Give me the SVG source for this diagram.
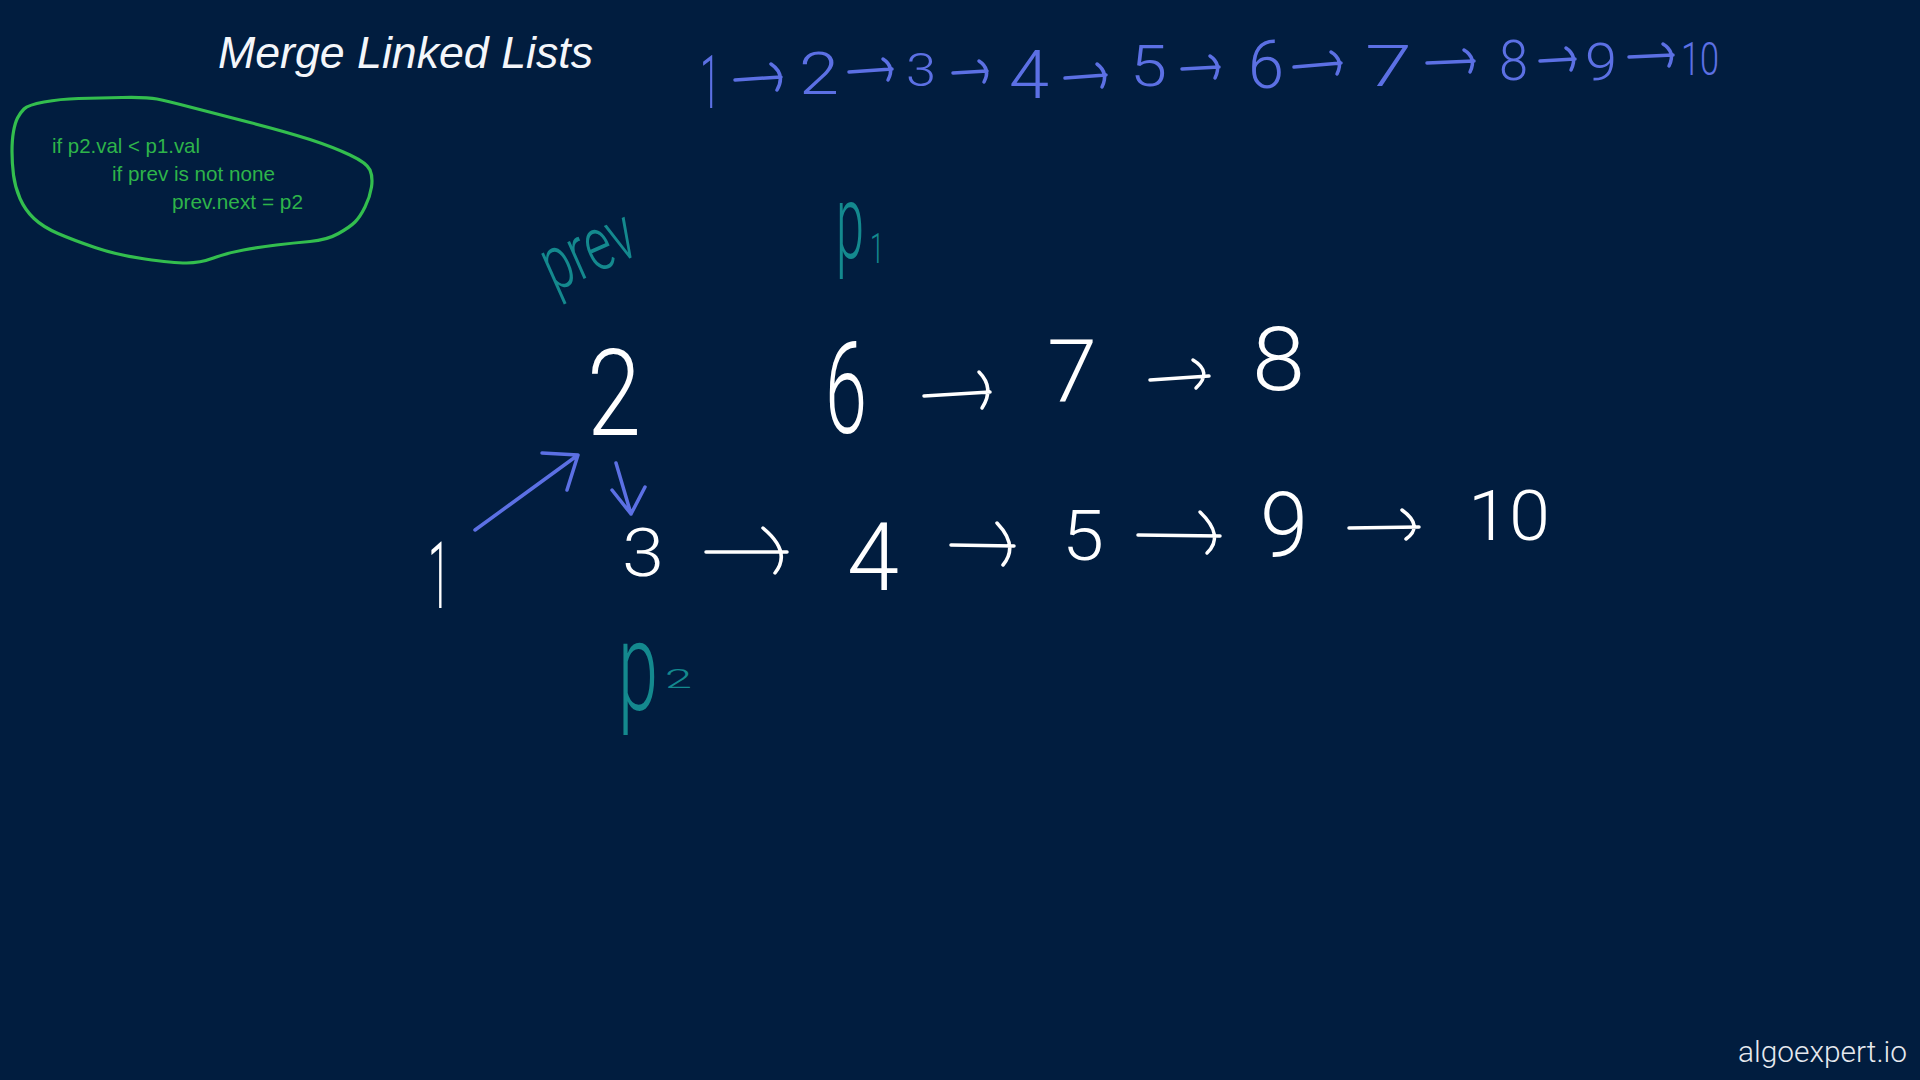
<svg xmlns="http://www.w3.org/2000/svg" width="1920" height="1080" viewBox="0 0 1920 1080">
<style>
.hw{font-family:Roboto,"Liberation Sans",sans-serif;font-weight:300;}
.w{fill:#ffffff;}
.b{fill:#5c70e4;}
.t{fill:#14898e;}
.g{fill:#2eb44a;font-family:"Liberation Sans",Arial,sans-serif;font-size:21px;}
.aw{fill:none;stroke:#ffffff;stroke-width:3.5;stroke-linecap:round;stroke-linejoin:round;}
.ab{fill:none;stroke:#5c70e4;stroke-width:3.5;stroke-linecap:round;stroke-linejoin:round;}
</style>
<rect width="1920" height="1080" fill="#011d3f"/>

<g id="title">
<text x="218" y="68" font-family="'Liberation Sans',Arial,sans-serif" font-style="italic" font-size="44" fill="#f4f6fa" textLength="375" lengthAdjust="spacingAndGlyphs">Merge Linked Lists</text>
</g>

<g id="code-note">
<path d="M44,102 Q60,99 78.5,98.5 Q97,98 122,97.5 Q147,97 157,99 Q167,101 190,107 Q213,113 250,122.5 Q287,132 310,139.5 Q333,147 350,155 Q367,163 370,170 Q373,177 371.5,187 Q370,197 365,207 Q360,217 355,222 Q350,227 338.5,233.5 Q327,240 310,241.5 Q293,243 276.5,245 Q260,247 243.5,250 Q227,253 213.5,258 Q200,263 186.5,263 Q173,263 145,259 Q117,255 95,247.5 Q73,240 58,233.5 Q43,227 34,218.5 Q25,210 20,198.5 Q15,187 13.5,175 Q12,163 12,151.5 Q12,140 13.5,131.5 Q15,123 17.5,118 Q20,113 24,109 Q28,105 44,102 Z" fill="none" stroke="#33be4e" stroke-width="3.2" stroke-linejoin="round"/>
<text class="g" x="52" y="153" textLength="148" lengthAdjust="spacingAndGlyphs">if p2.val &lt; p1.val</text>
<text class="g" x="112" y="181" textLength="163" lengthAdjust="spacingAndGlyphs">if prev is not none</text>
<text class="g" x="172" y="209" textLength="131" lengthAdjust="spacingAndGlyphs">prev.next = p2</text>
</g>

<g id="merged-list" class="hw b">
<text x="700" y="108" font-size="75" textLength="20" lengthAdjust="spacingAndGlyphs">1</text>
<text x="799" y="94" font-size="60" textLength="40" lengthAdjust="spacingAndGlyphs">2</text>
<text x="906" y="86" font-size="46" textLength="30" lengthAdjust="spacingAndGlyphs">3</text>
<text x="1009" y="98" font-size="66" textLength="40" lengthAdjust="spacingAndGlyphs">4</text>
<text x="1130" y="86" font-size="58" textLength="37" lengthAdjust="spacingAndGlyphs">5</text>
<text x="1248" y="88" font-size="67" textLength="36" lengthAdjust="spacingAndGlyphs">6</text>
<text x="1365" y="86" font-size="58" textLength="47" lengthAdjust="spacingAndGlyphs">7</text>
<text x="1499" y="80" font-size="56" textLength="29" lengthAdjust="spacingAndGlyphs">8</text>
<text x="1585" y="80" font-size="52" textLength="32" lengthAdjust="spacingAndGlyphs">9</text>
<text x="1681" y="75" font-size="46" textLength="38" lengthAdjust="spacingAndGlyphs">10</text>
</g>

<g id="node-1" class="hw w"><text x="428" y="608" font-size="93" textLength="22" lengthAdjust="spacingAndGlyphs">1</text></g>
<g id="node-2" class="hw w"><text x="587" y="435" font-size="121" textLength="54" lengthAdjust="spacingAndGlyphs">2</text></g>
<g id="node-3" class="hw w"><text x="622" y="576" font-size="67" textLength="42" lengthAdjust="spacingAndGlyphs">3</text></g>
<g id="node-4" class="hw w"><text x="847" y="590" font-size="94" textLength="52" lengthAdjust="spacingAndGlyphs">4</text></g>
<g id="node-5" class="hw w"><text x="1062" y="560" font-size="70" textLength="42" lengthAdjust="spacingAndGlyphs">5</text></g>
<g id="node-6" class="hw w"><text x="825" y="433" font-size="128" textLength="42" lengthAdjust="spacingAndGlyphs">6</text></g>
<g id="node-7" class="hw w"><text x="1047" y="402" font-size="87" textLength="50" lengthAdjust="spacingAndGlyphs">7</text></g>
<g id="node-8" class="hw w"><text x="1252" y="390" font-size="89" textLength="53" lengthAdjust="spacingAndGlyphs">8</text></g>
<g id="node-9" class="hw w"><text x="1260" y="557" font-size="90" textLength="48" lengthAdjust="spacingAndGlyphs">9</text></g>
<g id="node-10" class="hw w"><text x="1468" y="540" font-size="70" textLength="82" lengthAdjust="spacingAndGlyphs">10</text></g>

<g id="label-prev" class="hw t">
<text x="0" y="0" font-size="76" textLength="96" lengthAdjust="spacingAndGlyphs" transform="translate(554,292) rotate(-24)">prev</text>
</g>
<g id="label-p1" class="hw t">
<text x="0" y="0" font-size="60" textLength="28" lengthAdjust="spacingAndGlyphs" transform="translate(836,258) scale(1,1.73)">p</text>
<text x="870" y="263" font-size="42" textLength="14" lengthAdjust="spacingAndGlyphs">1</text>
</g>
<g id="label-p2" class="hw t">
<text x="0" y="0" font-size="76" textLength="40" lengthAdjust="spacingAndGlyphs" transform="translate(618,710) scale(1,1.63)">p</text>
<text x="665" y="688" font-size="26" textLength="27" lengthAdjust="spacingAndGlyphs">2</text>
</g>

<g id="connectors">
<g class="ab">
<path d="M735,80 L781,77 M771,64 Q786,74 777,90"/>
<path d="M849,72 L892,69 M883,59 Q895,67 888,80"/>
<path d="M953,73 L987,71 M979,61 Q991,69 984,82"/>
<path d="M1065,78 L1106,75 M1097,64 Q1109,73 1102,87"/>
<path d="M1182,69 L1219,67 M1210,56 Q1222,64 1215,78"/>
<path d="M1294,67 L1341,63 M1331,52 Q1344,60 1337,74"/>
<path d="M1427,63 L1474,61 M1464,50 Q1477,58 1470,72"/>
<path d="M1540,61 L1575,59 M1566,48 Q1578,56 1571,70"/>
<path d="M1629,57 L1673,55 M1663,44 Q1676,52 1669,66"/>
<path d="M475,530 L578,455 M542,453 L578,455 L567,490"/>
<path d="M616,463 L631,514 M612,490 L631,514 L645,487"/>
</g>
<g class="aw">
<path d="M924,396 L990,392 M979,372 Q995,388 982,408"/>
<path d="M1150,380 L1209,376 M1193,360 Q1213,372 1196,388"/>
<path d="M706,552 L787,552 M763,528 Q792,552 775,573"/>
<path d="M951,545 L1014,546 M997,523 Q1019,546 1003,565"/>
<path d="M1138,535 L1220,536 M1200,512 Q1225,536 1207,553"/>
<path d="M1349,528 L1419,527 M1402,510 Q1424,526 1406,539"/>
</g>
</g>

<g id="watermark">
<text x="1738" y="1062" font-family="Roboto,'Liberation Sans',Arial,sans-serif" font-weight="300" font-size="29" fill="#e6e9ee" textLength="169" lengthAdjust="spacingAndGlyphs">algoexpert.io</text>
</g>
</svg>
